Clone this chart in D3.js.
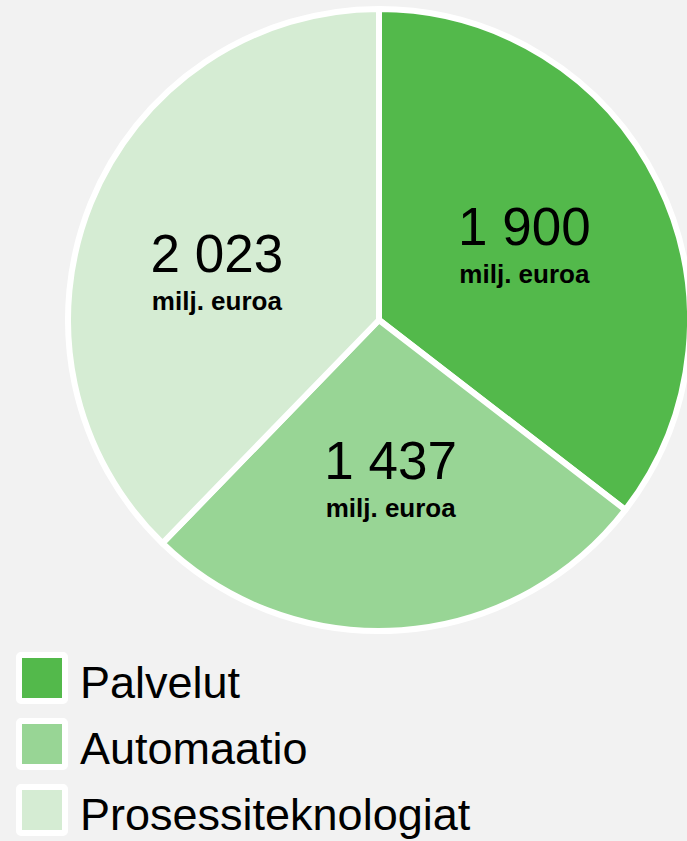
<!DOCTYPE html>
<html>
<head>
<meta charset="utf-8">
<script src="https://cdn.jsdelivr.net/npm/d3@7"></script>
<style>
  html, body { margin: 0; padding: 0; background: #f2f2f2; }
  svg { display: block; font-family: "Liberation Sans", Arial, sans-serif; }
</style>
</head>
<body>
<div id="chart"></div>
<script>
const categories = ["Palvelut", "Automaatio", "Prosessiteknologiat"];
const values = [1900, 1437, 2023];
const colors = ["#53b94b", "#98d595", "#d5ecd3"];
const unitLabel = "milj. euroa";

const WIDTH = 687;
const HEIGHT = 841;
const CX = 379, CY = 320, R = 311;

const svg = d3.select("#chart")
    .append("svg")
    .attr("width", WIDTH)
    .attr("height", HEIGHT);

svg.append("rect")
    .attr("width", WIDTH)
    .attr("height", HEIGHT)
    .attr("fill", "#f2f2f2");

const data = categories.map((c, i) => ({ name: c, value: values[i], color: colors[i] }));

const pie = d3.pie().value(d => d.value).sort(null);
const arc = d3.arc().innerRadius(0).outerRadius(R);
const labelArc = d3.arc().innerRadius(162).outerRadius(162);
const fmt = v => d3.format(",")(v).replace(/,/g, " ");

const g = svg.append("g").attr("transform", `translate(${CX},${CY})`);

const arcs = pie(data);

g.selectAll("path")
    .data(arcs)
    .join("path")
    .attr("d", arc)
    .attr("fill", d => d.data.color)
    .attr("stroke", "#fff")
    .attr("stroke-width", 6)
    .attr("stroke-linejoin", "round");

// the big left slice has its label pulled a bit lower and outward
const nudge = d => d.endAngle - d.startAngle > 2.3 ? [-12, 16] : [0, 0];

const labels = g.selectAll("g.lbl")
    .data(arcs)
    .join("g")
    .attr("class", "lbl")
    .attr("transform", d => {
        const [x, y] = labelArc.centroid(d);
        const [nx, ny] = nudge(d);
        return `translate(${x + nx},${y + ny})`;
    });

labels.append("text")
    .attr("text-anchor", "middle")
    .attr("y", -3)
    .attr("font-size", 53)
    .attr("fill", "#000")
    .text(d => fmt(d.data.value));

labels.append("text")
    .attr("text-anchor", "middle")
    .attr("y", 35)
    .attr("font-size", 26)
    .attr("font-weight", "bold")
    .attr("fill", "#000")
    .text(unitLabel);

const legend = svg.append("g").attr("transform", "translate(19,655)");

const item = legend.selectAll("g")
    .data(data)
    .join("g")
    .attr("transform", (d, i) => `translate(0,${i * 66})`);

item.append("rect")
    .attr("width", 46)
    .attr("height", 46)
    .attr("rx", 2)
    .attr("fill", d => d.color)
    .attr("stroke", "#fff")
    .attr("stroke-width", 6);

item.append("text")
    .attr("x", 61)
    .attr("y", 43)
    .attr("font-size", 45)
    .attr("fill", "#000")
    .text(d => d.name);
</script>
</body>
</html>
